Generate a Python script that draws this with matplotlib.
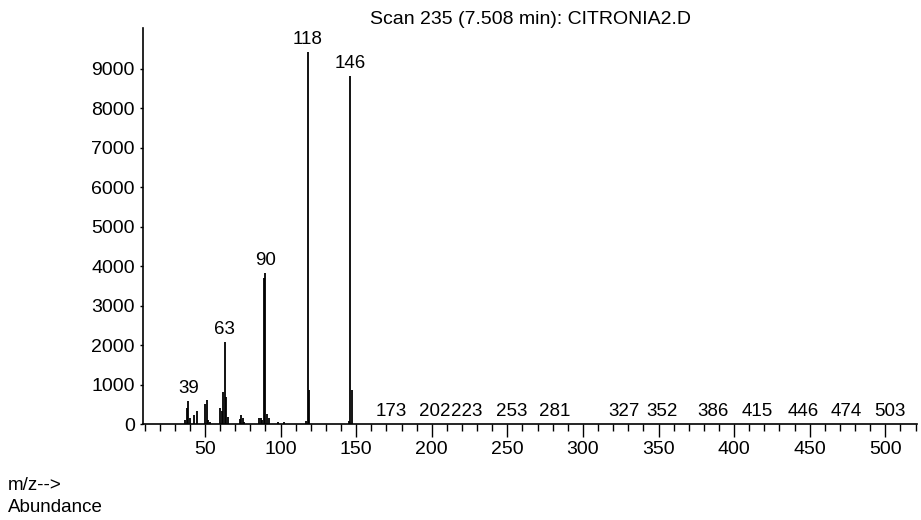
import numpy as np
import matplotlib.pyplot as plt
from matplotlib.ticker import MultipleLocator

plt.rcParams['font.family'] = ['Liberation Sans', 'DejaVu Sans']

# spectrum (m/z, abundance)
mz = [37, 38, 39, 40, 43, 45, 50, 51, 52, 53,
      60, 61, 62, 63, 64, 65, 73, 74, 75, 76,
      86, 87, 88, 89, 90, 91, 92, 98, 102,
      117, 118, 119, 145, 146, 147,
      173, 202, 223, 253, 281, 327, 352, 386, 415, 446, 474, 503]
abundance = [90, 400, 580, 160, 220, 340, 500, 610, 90, 60,
             400, 340, 820, 2080, 690, 180, 120, 230, 150, 60,
             140, 160, 100, 3700, 3830, 250, 150, 50, 50,
             80, 9430, 850, 80, 8820, 850,
             8, 8, 8, 8, 8, 8, 8, 8, 8, 8, 8, 8]
labelled = [39, 63, 90, 118, 146, 173, 202, 223, 253, 281,
            327, 352, 386, 415, 446, 474, 503]

fig = plt.figure(figsize=(9.21, 5.2), dpi=100)
ax = fig.add_axes([0.1553, 0.1846, 0.8404, 0.7616])

ax.vlines(mz, 0, abundance, colors='black', linewidth=1.3)

for m, a in zip(mz, abundance):
    if m in labelled:
        ax.annotate(str(m), (m, a), xytext=(0, 3), textcoords='offset points',
                    ha='center', va='bottom', fontsize=13.5)

ax.set_xlim(9, 521)
ax.set_ylim(0, 10040)
ax.xaxis.set_major_locator(MultipleLocator(50))
ax.xaxis.set_minor_locator(MultipleLocator(10))
ax.set_xticks([50, 100, 150, 200, 250, 300, 350, 400, 450, 500])
ax.set_yticks(np.arange(0, 10000, 1000))
ax.tick_params(axis='x', which='major', length=9, width=1, labelsize=14, pad=3)
ax.tick_params(axis='x', which='minor', length=5, width=1)
ax.tick_params(axis='y', which='major', length=2, width=1, labelsize=14, pad=4)

ax.spines['top'].set_visible(False)
ax.spines['right'].set_visible(False)
ax.spines['left'].set_linewidth(1.2)
ax.spines['bottom'].set_linewidth(1.2)

ax.set_title('Scan 235 (7.508 min): CITRONIA2.D', fontsize=14, pad=2)

fig.text(0.009, 0.067, 'm/z-->', fontsize=13.5, va='center')
fig.text(0.009, 0.025, 'Abundance', fontsize=13.5, va='center')

plt.savefig('out.png', dpi=100)
